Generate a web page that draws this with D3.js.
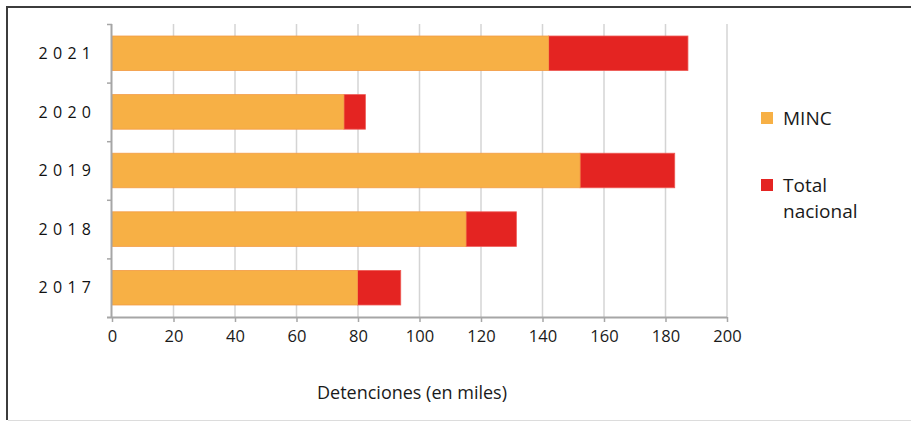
<!DOCTYPE html>
<html>
<head>
<meta charset="utf-8">
<script src="https://cdn.jsdelivr.net/npm/d3@7"></script>
<style>
  html, body { margin: 0; padding: 0; background: #fff; }
  svg { display: block; font-family: "Open Sans", "Noto Sans", sans-serif; }
</style>
</head>
<body>
<svg id="chart" width="911" height="422"></svg>
<script>
// Detentions per year, in thousands
const years = ["2021", "2020", "2019", "2018", "2017"];
const mincValues = [142.0, 75.4, 152.2, 115.1, 79.8];
const totalValues = [187.3, 82.4, 183.0, 131.5, 93.9];
const xTicks = [0, 20, 40, 60, 80, 100, 120, 140, 160, 180, 200];
const seriesNames = ["MINC", "Total nacional"];
const seriesColors = ["#F7B045", "#E42422"];

const svg = d3.select("#chart");
const plot = { left: 112, right: 727, top: 24, bottom: 317 };

// outer frame (open on the right)
svg.append("path")
  .attr("d", `M912,7 H7 V420`)
  .attr("fill", "none").attr("stroke", "#3c3c3c").attr("stroke-width", 2);
svg.append("line")
  .attr("x1", 8).attr("x2", 911).attr("y1", 420.5).attr("y2", 420.5)
  .attr("stroke", "#dcdcdc").attr("stroke-width", 1);

const x = d3.scaleLinear().domain([0, 200]).range([plot.left, plot.right]);
const yCells = d3.scaleBand().domain(years).range([plot.top, plot.bottom]).padding(0);
const y = d3.scaleBand().domain(years).range([plot.top, plot.bottom])
  .paddingInner(0.41).paddingOuter(0.205);

// vertical gridlines
svg.append("g")
  .selectAll("line").data(xTicks.filter(d => d > 0)).join("line")
  .attr("x1", d => x(d)).attr("x2", d => x(d))
  .attr("y1", plot.top).attr("y2", plot.bottom)
  .attr("stroke", "#d4d4d4").attr("stroke-width", 1.5);

// bars: MINC from 0, national remainder stacked after it
const rows = years.map((yr, i) => ({ yr, minc: mincValues[i], total: totalValues[i] }));
const bars = svg.append("g");
bars.selectAll("rect.total").data(rows).join("rect")
  .attr("class", "total")
  .attr("x", d => x(d.minc)).attr("width", d => x(d.total) - x(d.minc))
  .attr("y", d => y(d.yr)).attr("height", y.bandwidth())
  .attr("fill", seriesColors[1]).attr("stroke", "#EE5A55").attr("stroke-width", 0.8);
bars.selectAll("rect.minc").data(rows).join("rect")
  .attr("class", "minc")
  .attr("x", x(0)).attr("width", d => x(d.minc) - x(0))
  .attr("y", d => y(d.yr)).attr("height", y.bandwidth())
  .attr("fill", seriesColors[0]).attr("stroke", "#F39B45").attr("stroke-width", 0.8);

// x axis
const xAxis = svg.append("g")
  .attr("transform", `translate(0,${plot.bottom})`)
  .call(d3.axisBottom(x).tickValues(xTicks).tickSize(5).tickSizeOuter(0).tickPadding(8));
xAxis.select(".domain").attr("stroke", "#a6a6a6").attr("stroke-width", 2)
  .attr("d", `M${plot.left - 5},0.5H${plot.right}`);
xAxis.selectAll(".tick line").attr("stroke", "#a6a6a6").attr("stroke-width", 1.5);
xAxis.selectAll(".tick text").attr("font-size", 16.5).attr("fill", "#1a1a1a")
  .attr("font-family", "'Open Sans', 'Noto Sans', sans-serif")
  .attr("textLength", null);

// y axis: line with ticks at category boundaries
const yAxis = svg.append("g");
yAxis.append("line")
  .attr("x1", plot.left - 0.5).attr("x2", plot.left - 0.5)
  .attr("y1", plot.top).attr("y2", plot.bottom)
  .attr("stroke", "#a6a6a6").attr("stroke-width", 2);
yAxis.selectAll("line.tick").data(years).join("line")
  .attr("class", "tick")
  .attr("x1", plot.left - 5).attr("x2", plot.left)
  .attr("y1", d => yCells(d) + 0.5).attr("y2", d => yCells(d) + 0.5)
  .attr("stroke", "#a6a6a6").attr("stroke-width", 1.5);
yAxis.selectAll("text").data(years).join("text")
  .attr("x", 91).attr("y", d => y(d) + y.bandwidth() / 2)
  .attr("dy", "0.36em")
  .attr("text-anchor", "end")
  .attr("font-size", 16).attr("fill", "#111")
  .text(d => d.split("").join("\u2009\u2009"));

// axis title
svg.append("text")
  .attr("x", 412).attr("y", 399)
  .attr("text-anchor", "middle")
  .attr("font-size", 18).attr("fill", "#1a1a1a")
  .text("Detenciones (en miles)");

// legend
const legend = svg.append("g");
const legendItems = [
  { name: seriesNames[0], color: seriesColors[0], y: 118, lines: ["MINC"] },
  { name: seriesNames[1], color: seriesColors[1], y: 185, lines: ["Total", "nacional"] }
];
legendItems.forEach(item => {
  legend.append("rect")
    .attr("x", 761).attr("y", item.y - 6).attr("width", 12).attr("height", 12)
    .attr("fill", item.color);
  const t = legend.append("text")
    .attr("x", 783).attr("y", item.y + 7)
    .attr("font-size", 19).attr("fill", "#1a1a1a");
  item.lines.forEach((ln, i) => {
    t.append("tspan").attr("x", 783).attr("dy", i === 0 ? 0 : 26).text(ln);
  });
});
</script>
</body>
</html>
